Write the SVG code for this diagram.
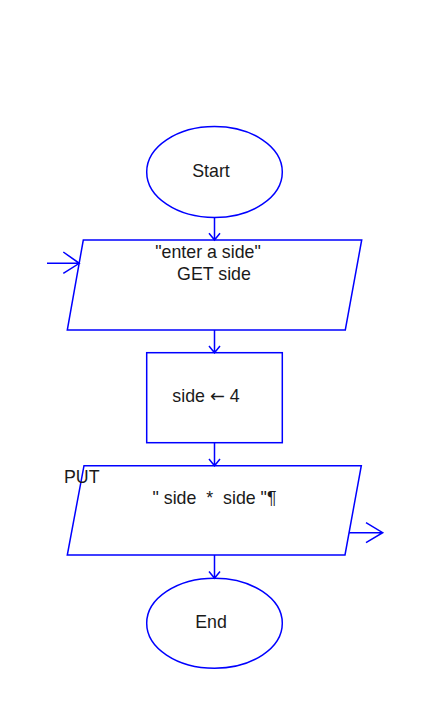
<svg xmlns="http://www.w3.org/2000/svg" width="442" height="722" viewBox="0 0 442 722">
<style>
.s{fill:#fff;stroke:#0000ff;stroke-width:1.5}
.c{fill:none;stroke:#0000ff;stroke-width:1.5}
.t{font-family:"Liberation Sans",Arial,sans-serif;font-size:17.8px;fill:#1a1a1a;white-space:pre}
.a{font-family:"DejaVu Sans",sans-serif}
</style>
<rect width="442" height="722" fill="#fff"/>
<g id="start">
<ellipse class="s" cx="214.5" cy="172" rx="67.8" ry="45.5"/>
<text class="t" x="211" y="177" text-anchor="middle">Start</text>
</g>
<g id="input">
<polygon class="s" points="83.3,240 361.7,240 345.3,330 67.3,330"/>
<text class="t" x="208" y="258" text-anchor="middle">"enter a side"</text>
<text class="t" x="214" y="280" text-anchor="middle">GET side</text>
</g>
<g id="assign">
<rect class="s" x="146.7" y="352.7" width="135.6" height="90"/>
<text class="t" x="206" y="402" text-anchor="middle">side <tspan class="a">←</tspan> 4</text>
</g>
<g id="output">
<polygon class="s" points="84,465.7 361.3,465.7 345,555 67.3,555"/>
<text class="t" x="64" y="483">PUT</text>
<text class="t" x="214.5" y="504" text-anchor="middle">" side  *  side "¶</text>
</g>
<g id="end">
<ellipse class="s" cx="214.5" cy="623.3" rx="67.8" ry="45"/>
<text class="t" x="211" y="628" text-anchor="middle">End</text>
</g>
<g id="connectors">
<path class="c" d="M214.5,217.5V240M209,233.3L214.5,240L220,233.3"/>
<path class="c" d="M214.5,330V352.7M209,346L214.5,352.7L220,346"/>
<path class="c" d="M214.5,442.7V465.7M209,459L214.5,465.7L220,459"/>
<path class="c" d="M214.5,555V578.3M209,571.6L214.5,578.3L220,571.6"/>
<path class="c" d="M47,263.3H79.3M63.3,252L79.3,263.3L63.3,273.3"/>
<path class="c" d="M349,532.7H382.7M366,522.7L382.7,532.7L366,542.7"/>
</g>
</svg>
